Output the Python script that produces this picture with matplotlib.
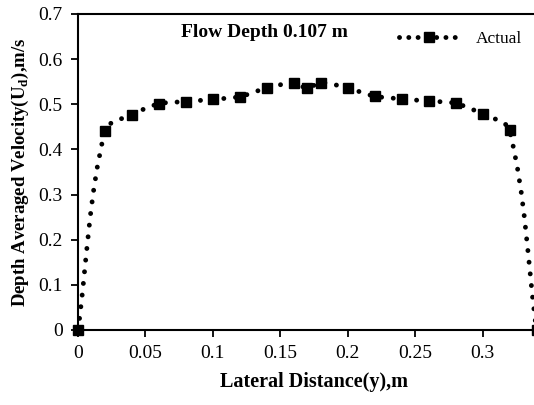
import matplotlib
matplotlib.use("Agg")
import matplotlib.pyplot as plt
from matplotlib.path import Path
from matplotlib.patches import PathPatch
from matplotlib.lines import Line2D
import numpy as np

# lateral distance (m) and depth averaged velocity (m/s)
lateral_y = [0.0, 0.02, 0.04, 0.06, 0.08, 0.10, 0.12, 0.14, 0.16, 0.17,
             0.18, 0.20, 0.22, 0.24, 0.26, 0.28, 0.30, 0.32, 0.34]
velocity_ud = [0.0, 0.441, 0.477, 0.501, 0.506, 0.511, 0.517, 0.536, 0.547, 0.536,
               0.548, 0.536, 0.518, 0.512, 0.507, 0.502, 0.478, 0.442, 0.0]

x_ticks = [0, 0.05, 0.1, 0.15, 0.2, 0.25, 0.3]
x_tick_labels = ["0", "0.05", "0.1", "0.15", "0.2", "0.25", "0.3"]
y_ticks = [0, 0.1, 0.2, 0.3, 0.4, 0.5, 0.6, 0.7]
y_tick_labels = ["0", "0.1", "0.2", "0.3", "0.4", "0.5", "0.6", "0.7"]

plt.rcParams['font.family'] = ['Liberation Serif', 'DejaVu Serif']
plt.rcParams['mathtext.fontset'] = 'custom'
plt.rcParams['mathtext.rm'] = 'Liberation Serif'
plt.rcParams['mathtext.bf'] = 'Liberation Serif:bold'

fig = plt.figure(figsize=(5.34, 4.05), dpi=100)
ax = fig.add_axes([78 / 534, 75 / 405, 472 / 534, 316 / 405])
ax.set_xlim(0, 0.35)
ax.set_ylim(0, 0.7)


def smooth_path(xs, ys, ax):
    # excel style smoothed line, tangents worked out in screen space
    fig.canvas.draw()
    pts = ax.transData.transform(np.column_stack([xs, ys]))
    n = len(pts)
    verts = [pts[0]]
    codes = [Path.MOVETO]
    for i in range(n - 1):
        p0 = pts[max(i - 1, 0)]
        p1 = pts[i]
        p2 = pts[i + 1]
        p3 = pts[min(i + 2, n - 1)]
        seg = np.linalg.norm(p2 - p1)
        t1 = p2 - p0
        t2 = p3 - p1
        c1 = p1 + t1 / np.linalg.norm(t1) * seg / 3.0
        c2 = p2 - t2 / np.linalg.norm(t2) * seg / 3.0
        verts += [c1, c2, p2]
        codes += [Path.CURVE4] * 3
    verts = ax.transData.inverted().transform(np.array(verts))
    return Path(verts, codes)


dot_style = (0, (0.01, 2.4))
patch = PathPatch(smooth_path(lateral_y, velocity_ud, ax), facecolor='none', edgecolor='black',
                  linewidth=3.5, linestyle=dot_style, capstyle='round', clip_on=False)
ax.add_patch(patch)
ax.plot(lateral_y, velocity_ud, linestyle='none', marker='s', markersize=6.7,
        color='black', clip_on=False, zorder=3)

ax.set_xticks(x_ticks)
ax.set_xticklabels(x_tick_labels)
ax.set_yticks(y_ticks)
ax.set_yticklabels(y_tick_labels)
ax.tick_params(direction='out', length=5, width=1.3, labelsize=14, pad=6)

for side in ['left', 'bottom', 'top']:
    ax.spines[side].set_linewidth(1.5)
ax.spines['right'].set_visible(False)

ax.set_xlabel("Lateral Distance(y),m", fontsize=14.5, fontweight='bold', labelpad=7)
ax.set_ylabel(r"Depth Averaged Velocity(U$_\mathbf{d}$),m/s", fontsize=13.5,
              fontweight='bold', labelpad=5)

ax.text(0.1386, 0.658, "Flow Depth 0.107 m", fontsize=14, fontweight='bold',
        ha='center', va='center')

handle = Line2D([], [], color='black', linewidth=3.5, linestyle=(0, (0.01, 1.9)),
                dash_capstyle='round', marker='s', markersize=6.7)
fig.legend([handle], ["Actual"], loc='center left', bbox_to_anchor=(399 / 534, 1 - 39 / 405),
           frameon=False, fontsize=12.5, handlelength=3.5, handletextpad=0.9,
           borderpad=0, borderaxespad=0, numpoints=1)

fig.savefig("out.png", dpi=100)
